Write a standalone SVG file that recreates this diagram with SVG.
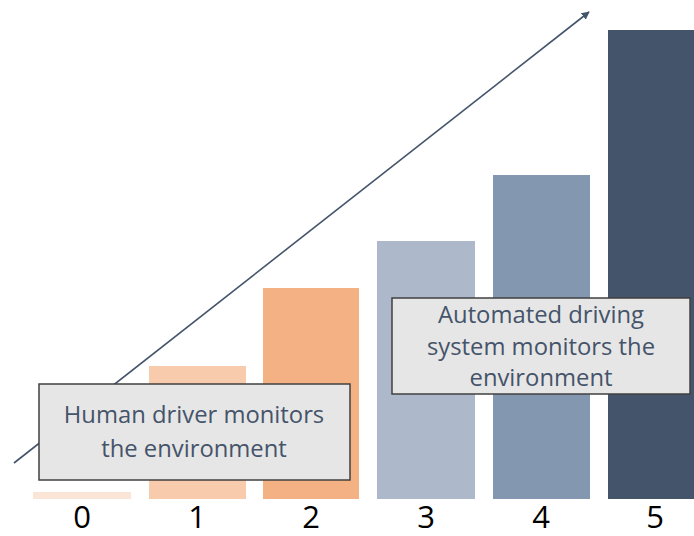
<svg xmlns="http://www.w3.org/2000/svg" width="694" height="536" viewBox="0 0 694 536">
<style>
.lbl{font-family:"Open Sans","Liberation Sans",sans-serif;font-size:23.8px;fill:#44546a;text-anchor:middle}
.num{font-family:"Open Sans","Liberation Sans",sans-serif;font-size:31px;fill:#000;text-anchor:middle}
.box{fill:#e7e6e6;stroke:#404040;stroke-width:1.5}
</style>
<defs>
<marker id="ah" viewBox="0 0 10 10" refX="9" refY="5" markerWidth="5" markerHeight="5" orient="auto" markerUnits="strokeWidth">
<path d="M0,0 L10,5 L0,10 z" fill="#44546a"/>
</marker>
</defs>
<rect width="694" height="536" fill="#fff"/>
<g id="bars">
<rect x="33" y="492" width="98" height="7" fill="#fbe5d6"/>
<rect x="149" y="366" width="97" height="133" fill="#f8cbad"/>
<rect x="263" y="288" width="96" height="211" fill="#f4b183"/>
<rect x="377" y="241" width="98" height="258" fill="#adb9ca"/>
<rect x="493" y="175" width="97" height="324" fill="#8497b0"/>
<rect x="608" y="30" width="86" height="469" fill="#44546a"/>
</g>
<g id="connectors">
<line x1="14" y1="463" x2="589" y2="12" stroke="#44546a" stroke-width="1.6" marker-end="url(#ah)"/>
</g>
<g id="levels">
<text class="num" x="82" y="528">0</text>
<text class="num" x="197" y="528">1</text>
<text class="num" x="311" y="528">2</text>
<text class="num" x="426" y="528">3</text>
<text class="num" x="541" y="528">4</text>
<text class="num" x="655" y="528">5</text>
</g>
<g id="human">
<rect class="box" x="39" y="384" width="311" height="96"/>
<text class="lbl" x="194" y="423">Human driver monitors</text>
<text class="lbl" x="194" y="457">the environment</text>
</g>
<g id="automated">
<rect class="box" x="392" y="298" width="298" height="96"/>
<text class="lbl" x="541" y="323">Automated driving</text>
<text class="lbl" x="541" y="355">system monitors the</text>
<text class="lbl" x="541" y="386">environment</text>
</g>
</svg>
